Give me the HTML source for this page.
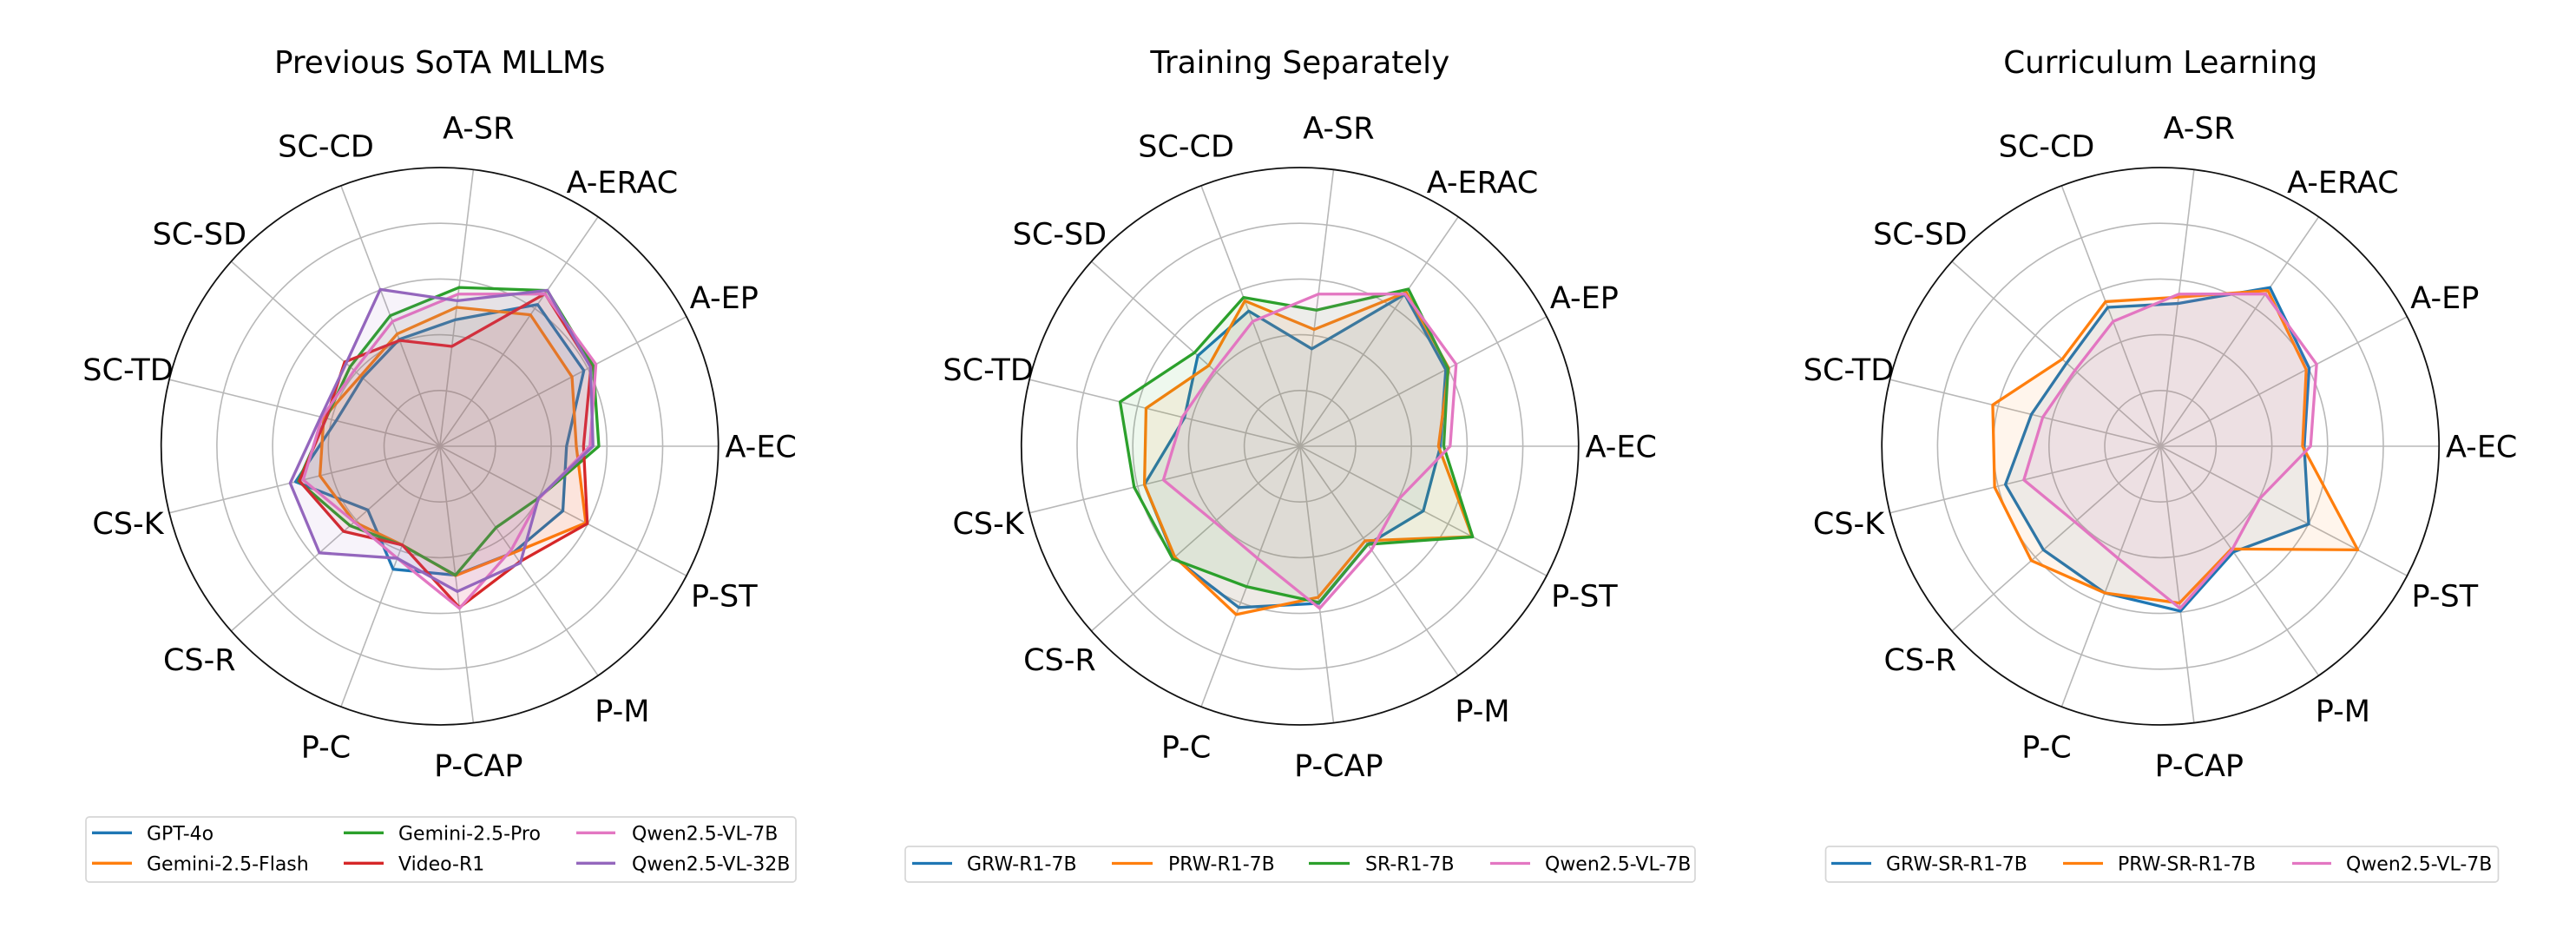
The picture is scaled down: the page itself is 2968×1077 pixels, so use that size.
<!DOCTYPE html>
<html>
<head>
<meta charset="utf-8">
<style>
  html,body{margin:0;padding:0;background:#fff;}
  svg{display:block;}
  .lab{font-family:"DejaVu Sans","Liberation Sans",sans-serif;font-size:35px;fill:#000;text-anchor:middle;}
  .ttl{font-family:"DejaVu Sans","Liberation Sans",sans-serif;font-size:35.7px;fill:#000;text-anchor:middle;}
  .leg{font-family:"DejaVu Sans","Liberation Sans",sans-serif;font-size:22px;fill:#000;}
</style>
</head>
<body>
<svg id="fig" width="2968" height="1077" viewBox="0 0 2968 1077" xmlns="http://www.w3.org/2000/svg">
  <rect x="0" y="0" width="2968" height="1077" fill="#fff"/>

  <!-- Chart 1 -->
  <g transform="translate(506.7,514)">
    <g id="c0"></g>
    <text class="ttl" x="0" y="-430">Previous SoTA MLLMs</text>
    <text class="lab" x="370" y="12.7">A-EC</text>
    <text class="lab" x="327.6" y="-159.2">A-EP</text>
    <text class="lab" x="210.2" y="-291.8">A-ERAC</text>
    <text class="lab" x="44.6" y="-354.6">A-SR</text>
    <text class="lab" x="-131.2" y="-333.3">SC-CD</text>
    <text class="lab" x="-276.9" y="-232.6">SC-SD</text>
    <text class="lab" x="-359.2" y="-75.8">SC-TD</text>
    <text class="lab" x="-359.2" y="101.2">CS-K</text>
    <text class="lab" x="-276.9" y="258.0">CS-R</text>
    <text class="lab" x="-131.2" y="358.7">P-C</text>
    <text class="lab" x="44.6" y="380.0">P-CAP</text>
    <text class="lab" x="210.2" y="317.2">P-M</text>
    <text class="lab" x="327.6" y="184.6">P-ST</text>
  </g>

  <!-- Chart 2 -->
  <g transform="translate(1497.8,514)">
    <g id="c1"></g>
    <text class="ttl" x="0" y="-430">Training Separately</text>
    <text class="lab" x="370" y="12.7">A-EC</text>
    <text class="lab" x="327.6" y="-159.2">A-EP</text>
    <text class="lab" x="210.2" y="-291.8">A-ERAC</text>
    <text class="lab" x="44.6" y="-354.6">A-SR</text>
    <text class="lab" x="-131.2" y="-333.3">SC-CD</text>
    <text class="lab" x="-276.9" y="-232.6">SC-SD</text>
    <text class="lab" x="-359.2" y="-75.8">SC-TD</text>
    <text class="lab" x="-359.2" y="101.2">CS-K</text>
    <text class="lab" x="-276.9" y="258.0">CS-R</text>
    <text class="lab" x="-131.2" y="358.7">P-C</text>
    <text class="lab" x="44.6" y="380.0">P-CAP</text>
    <text class="lab" x="210.2" y="317.2">P-M</text>
    <text class="lab" x="327.6" y="184.6">P-ST</text>
  </g>

  <!-- Chart 3 -->
  <g transform="translate(2489.2,514)">
    <g id="c2"></g>
    <text class="ttl" x="0" y="-430">Curriculum Learning</text>
    <text class="lab" x="370" y="12.7">A-EC</text>
    <text class="lab" x="327.6" y="-159.2">A-EP</text>
    <text class="lab" x="210.2" y="-291.8">A-ERAC</text>
    <text class="lab" x="44.6" y="-354.6">A-SR</text>
    <text class="lab" x="-131.2" y="-333.3">SC-CD</text>
    <text class="lab" x="-276.9" y="-232.6">SC-SD</text>
    <text class="lab" x="-359.2" y="-75.8">SC-TD</text>
    <text class="lab" x="-359.2" y="101.2">CS-K</text>
    <text class="lab" x="-276.9" y="258.0">CS-R</text>
    <text class="lab" x="-131.2" y="358.7">P-C</text>
    <text class="lab" x="44.6" y="380.0">P-CAP</text>
    <text class="lab" x="210.2" y="317.2">P-M</text>
    <text class="lab" x="327.6" y="184.6">P-ST</text>
  </g>

  <!-- Legend 1 -->
  <rect x="99" y="941" width="818" height="75" rx="4" ry="4" fill="#fff" stroke="#d6d6d6" stroke-width="1.7"/>
  <line x1="106" y1="959.3" x2="152" y2="959.3" stroke="#1f77b4" stroke-width="3.3"/>
  <text class="leg" x="169" y="967.5">GPT-4o</text>
  <line x1="106" y1="994.3" x2="152" y2="994.3" stroke="#ff7f0e" stroke-width="3.3"/>
  <text class="leg" x="169" y="1002.5">Gemini-2.5-Flash</text>
  <line x1="396" y1="959.3" x2="442" y2="959.3" stroke="#2ca02c" stroke-width="3.3"/>
  <text class="leg" x="459" y="967.5">Gemini-2.5-Pro</text>
  <line x1="396" y1="994.3" x2="442" y2="994.3" stroke="#d62728" stroke-width="3.3"/>
  <text class="leg" x="459" y="1002.5">Video-R1</text>
  <line x1="664" y1="959.3" x2="709" y2="959.3" stroke="#e377c2" stroke-width="3.3"/>
  <text class="leg" x="728" y="967.5">Qwen2.5-VL-7B</text>
  <line x1="664" y1="994.3" x2="709" y2="994.3" stroke="#9467bd" stroke-width="3.3"/>
  <text class="leg" x="728" y="1002.5">Qwen2.5-VL-32B</text>

  <!-- Legend 2 -->
  <rect x="1043" y="975" width="910" height="41" rx="4" ry="4" fill="#fff" stroke="#d6d6d6" stroke-width="1.7"/>
  <line x1="1051" y1="994.5" x2="1097" y2="994.5" stroke="#1f77b4" stroke-width="3.3"/>
  <text class="leg" x="1114" y="1002.7">GRW-R1-7B</text>
  <line x1="1281" y1="994.5" x2="1328" y2="994.5" stroke="#ff7f0e" stroke-width="3.3"/>
  <text class="leg" x="1346" y="1002.7">PRW-R1-7B</text>
  <line x1="1508" y1="994.5" x2="1555" y2="994.5" stroke="#2ca02c" stroke-width="3.3"/>
  <text class="leg" x="1573" y="1002.7">SR-R1-7B</text>
  <line x1="1717" y1="994.5" x2="1763" y2="994.5" stroke="#e377c2" stroke-width="3.3"/>
  <text class="leg" x="1780" y="1002.7">Qwen2.5-VL-7B</text>

  <!-- Legend 3 -->
  <rect x="2103.5" y="975" width="775" height="41" rx="4" ry="4" fill="#fff" stroke="#d6d6d6" stroke-width="1.7"/>
  <line x1="2110" y1="994.5" x2="2156" y2="994.5" stroke="#1f77b4" stroke-width="3.3"/>
  <text class="leg" x="2173" y="1002.7">GRW-SR-R1-7B</text>
  <line x1="2377" y1="994.5" x2="2423" y2="994.5" stroke="#ff7f0e" stroke-width="3.3"/>
  <text class="leg" x="2440" y="1002.7">PRW-SR-R1-7B</text>
  <line x1="2641" y1="994.5" x2="2686" y2="994.5" stroke="#e377c2" stroke-width="3.3"/>
  <text class="leg" x="2703" y="1002.7">Qwen2.5-VL-7B</text>
</svg>

<script>
(function(){
  var NS = 'http://www.w3.org/2000/svg';
  var R = 321, N = 13;
  var C = {b:'#1f77b4', o:'#ff7f0e', g:'#2ca02c', r:'#d62728', p:'#e377c2', u:'#9467bd'};
  var pink = [0.539, 0.633, 0.664, 0.55, 0.479, 0.41, 0.435, 0.505, 0.41, 0.43, 0.586, 0.452, 0.403];
  var charts = [
    {id:'c0', s:[
      ['b',[0.455, 0.584, 0.618, 0.457, 0.41, 0.37, 0.383, 0.533, 0.345, 0.472, 0.466, 0.464, 0.499]],
      ['o',[0.49, 0.536, 0.573, 0.502, 0.431, 0.38, 0.429, 0.443, 0.41, 0.379, 0.468, 0.465, 0.592]],
      ['g',[0.571, 0.622, 0.679, 0.574, 0.501, 0.43, 0.42, 0.523, 0.43, 0.38, 0.466, 0.355, 0.40]],
      ['r',[0.516, 0.613, 0.665, 0.361, 0.406, 0.456, 0.42, 0.519, 0.461, 0.379, 0.583, 0.504, 0.598]],
      ['p',pink],
      ['u',[0.55, 0.611, 0.68, 0.526, 0.602, 0.449, 0.44, 0.553, 0.577, 0.43, 0.525, 0.509, 0.40]]
    ]},
    {id:'c1', s:[
      ['b',[0.504, 0.591, 0.662, 0.352, 0.519, 0.49, 0.427, 0.575, 0.603, 0.619, 0.568, 0.428, 0.50]],
      ['o',[0.497, 0.603, 0.671, 0.422, 0.558, 0.437, 0.569, 0.575, 0.60, 0.646, 0.546, 0.412, 0.698]],
      ['g',[0.516, 0.60, 0.685, 0.492, 0.571, 0.506, 0.665, 0.613, 0.61, 0.539, 0.565, 0.428, 0.70]],
      ['p',pink]
    ]},
    {id:'c2', s:[
      ['b',[0.516, 0.603, 0.692, 0.516, 0.533, 0.45, 0.477, 0.573, 0.561, 0.563, 0.596, 0.461, 0.601]],
      ['o',[0.51, 0.591, 0.679, 0.539, 0.555, 0.471, 0.62, 0.613, 0.619, 0.563, 0.567, 0.448, 0.80]],
      ['p',pink]
    ]}
  ];
  function el(n, a, p){
    var e = document.createElementNS(NS, n);
    for (var k in a) e.setAttribute(k, a[k]);
    p.appendChild(e);
    return e;
  }
  charts.forEach(function(ch){
    var g = document.getElementById(ch.id);
    var i, t;
    for (i = 1; i <= 4; i++) {
      el('circle', {cx:0, cy:0, r:(R*i/5).toFixed(2), fill:'none', stroke:'#b8b8b8', 'stroke-width':1.6}, g);
    }
    for (i = 0; i < N; i++) {
      t = 2*Math.PI*i/N;
      el('line', {x1:0, y1:0, x2:(R*Math.cos(t)).toFixed(2), y2:(-R*Math.sin(t)).toFixed(2),
                  stroke:'#b8b8b8', 'stroke-width':1.6}, g);
    }
    ch.s.forEach(function(s){
      var pts = s[1].map(function(v, i){
        var t = 2*Math.PI*i/N;
        return (R*v*Math.cos(t)).toFixed(2) + ',' + (-R*v*Math.sin(t)).toFixed(2);
      }).join(' ');
      el('polygon', {points:pts, fill:'none', stroke:C[s[0]], 'stroke-width':3.3, 'stroke-linejoin':'round'}, g);
      el('polygon', {points:pts, fill:C[s[0]], 'fill-opacity':0.08, stroke:'none'}, g);
    });
    el('circle', {cx:0, cy:0, r:R, fill:'none', stroke:'#111', 'stroke-width':1.8}, g);
  });
})();
</script>
</body>
</html>
